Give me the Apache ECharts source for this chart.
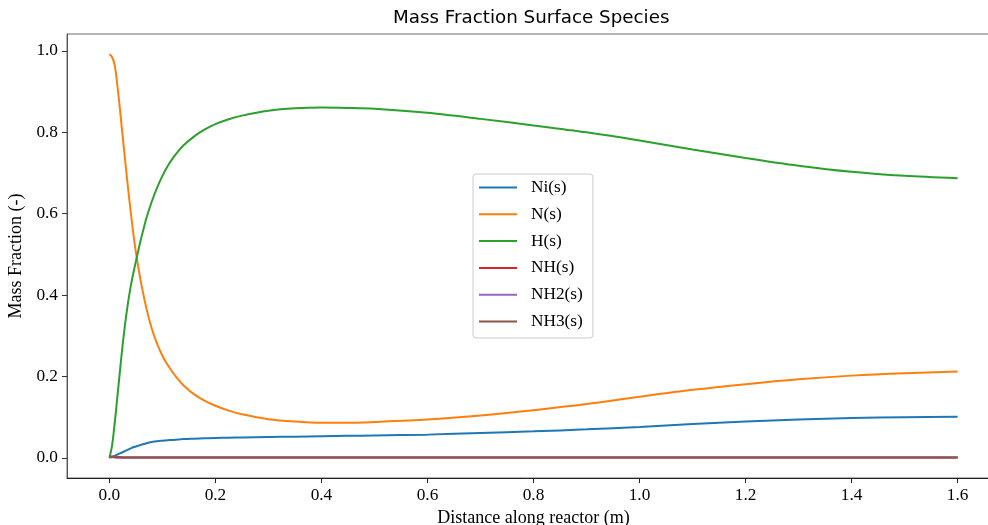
<!DOCTYPE html>
<html>
<head>
<meta charset="utf-8">
<script src="https://cdn.jsdelivr.net/npm/echarts@6/dist/echarts.min.js"></script>
<style>
  html, body { margin: 0; padding: 0; background: #fff; overflow: hidden; }
  #chart { width: 988px; height: 525px; }
</style>
</head>
<body>
<div id="chart"></div>
<script>
// Distance along the reactor (m), shared by every species
const distance = [0, 0.005, 0.01, 0.015, 0.02, 0.025, 0.03, 0.035, 0.04, 0.045, 0.05, 0.055, 0.06,
  0.07, 0.08, 0.09, 0.1, 0.11, 0.12, 0.13, 0.14, 0.16, 0.18, 0.2, 0.225, 0.25, 0.3, 0.35, 0.4, 0.45, 0.5,
  0.6, 0.7, 0.8, 0.9, 1.0, 1.1, 1.2, 1.3, 1.4, 1.5, 1.6];

// Surface species mass fractions
const niS = [0, 0.002, 0.005, 0.008, 0.011, 0.014, 0.017, 0.020, 0.023, 0.026, 0.028, 0.030, 0.032,
  0.036, 0.039, 0.041, 0.042, 0.043, 0.044, 0.045, 0.046, 0.047, 0.048, 0.049, 0.0495, 0.050, 0.051, 0.052, 0.053, 0.054, 0.055,
  0.057, 0.061, 0.065, 0.070, 0.076, 0.083, 0.089, 0.094, 0.098, 0.100, 0.101];
const nS = [0.992, 0.985, 0.965, 0.915, 0.855, 0.79, 0.727, 0.665, 0.607, 0.553, 0.505, 0.465, 0.428,
  0.366, 0.317, 0.280, 0.251, 0.228, 0.209, 0.192, 0.178, 0.156, 0.140, 0.128, 0.116, 0.107, 0.095, 0.089, 0.086, 0.086, 0.088,
  0.094, 0.104, 0.117, 0.132, 0.150, 0.167, 0.181, 0.193, 0.202, 0.208, 0.212];
const hS = [0, 0.03, 0.085, 0.15, 0.215, 0.278, 0.333, 0.38, 0.42, 0.453, 0.483, 0.512, 0.540,
  0.590, 0.630, 0.664, 0.693, 0.717, 0.737, 0.754, 0.768, 0.790, 0.807, 0.820, 0.832, 0.841, 0.853, 0.859, 0.861, 0.860, 0.858,
  0.848, 0.833, 0.817, 0.800, 0.780, 0.758, 0.737, 0.718, 0.703, 0.693, 0.687];
const nhS = [0.003, 0.003, 0.002, 0.002, 0.002, 0.001, 0.001, 0.001, 0.001, 0.001, 0.001, 0.001, 0.001,
  0.001, 0.001, 0.001, 0.001, 0.001, 0.001, 0.001, 0.001, 0.001, 0.001, 0.001, 0.001, 0.001, 0.001, 0.001, 0.001, 0.001, 0.001,
  0.001, 0.001, 0.001, 0.001, 0.001, 0.001, 0.001, 0.001, 0.001, 0.001, 0.001];
const nh2S = [0.002, 0.002, 0.001, 0.001, 0.001, 0.001, 0.001, 0.001, 0.0005, 0.0005, 0.0005, 0.0005, 0.0005,
  0.0005, 0.0005, 0.0005, 0.0005, 0.0005, 0.0005, 0.0005, 0.0005, 0.0005, 0.0005, 0.0005, 0.0005, 0.0005, 0.0005, 0.0005, 0.0005, 0.0005, 0.0005,
  0.0005, 0.0005, 0.0005, 0.0005, 0.0005, 0.0005, 0.0005, 0.0005, 0.0005, 0.0005, 0.0005];
const nh3S = [0.002, 0.002, 0.002, 0.001, 0.001, 0.001, 0.001, 0.001, 0.001, 0.001, 0.001, 0.001, 0.001,
  0.001, 0.001, 0.001, 0.001, 0.001, 0.001, 0.001, 0.001, 0.001, 0.001, 0.001, 0.001, 0.001, 0.001, 0.001, 0.001, 0.001, 0.001,
  0.001, 0.001, 0.001, 0.001, 0.001, 0.001, 0.001, 0.001, 0.001, 0.001, 0.001];

const speciesNames = ['Ni(s)', 'N(s)', 'H(s)', 'NH(s)', 'NH2(s)', 'NH3(s)'];
const speciesValues = [niS, nS, hS, nhS, nh2S, nh3S];
const speciesColors = ['#1f77b4', '#ff7f0e', '#2ca02c', '#d62728', '#9467bd', '#8c564b'];

const xTicks = [0, 0.2, 0.4, 0.6, 0.8, 1.0, 1.2, 1.4, 1.6];
const yTicks = [0, 0.2, 0.4, 0.6, 0.8, 1.0];

const serif = 'Liberation Serif';
const tickSize = 17.3;
const nameSize = 18;

const chart = echarts.init(document.getElementById('chart'), null, { renderer: 'canvas' });

const series = speciesNames.map((name, i) => ({
  name: name,
  type: 'line',
  data: distance.map((d, k) => [d, speciesValues[i][k]]),
  showSymbol: false,
  smooth: 0.3,
  lineStyle: { color: speciesColors[i], width: 2 },
  itemStyle: { color: speciesColors[i] },
  emphasis: { disabled: true },
  animation: false
}));

chart.setOption({
  animation: false,
  backgroundColor: '#fff',
  title: {
    text: 'Mass Fraction Surface Species',
    left: 393,
    top: 9,
    padding: 0,
    textStyle: { fontFamily: 'DejaVu Sans', fontSize: 18.3, fontWeight: 'normal', color: '#000' }
  },
  // the plot area runs a little past the right edge of the canvas
  grid: {
    left: 67, top: 34, right: -12, bottom: 47,
    outerBoundsMode: 'none',
    containLabel: false,
    show: true, borderColor: '#6a6a6a', borderWidth: 1, backgroundColor: 'transparent'
  },
  legend: {
    orient: 'vertical',
    left: 473,
    top: 174,
    icon: 'rect',
    itemWidth: 38,
    itemHeight: 2,
    itemGap: 9.8,
    padding: [5, 10, 8, 6],
    backgroundColor: 'rgba(255,255,255,0.8)',
    borderColor: '#cccccc',
    borderWidth: 1,
    borderRadius: 3,
    textStyle: { fontFamily: serif, fontSize: tickSize, color: '#000', lineHeight: 17, padding: [0, 0, 0, 9] },
    data: speciesNames
  },
  xAxis: {
    type: 'value',
    min: -0.08,
    max: 1.68,
    name: 'Distance along reactor (m)',
    nameLocation: 'middle',
    nameGap: 30,
    nameTextStyle: { fontFamily: serif, fontSize: nameSize, color: '#000' },
    axisLine: { show: true, onZero: false, lineStyle: { color: '#222', width: 1 } },
    axisTick: { show: true, length: 5, lineStyle: { color: '#222' }, customValues: xTicks },
    axisLabel: {
      margin: 9, fontFamily: serif, fontSize: tickSize, color: '#000',
      customValues: xTicks,
      formatter: v => v.toFixed(1)
    },
    splitLine: { show: false }
  },
  yAxis: {
    type: 'value',
    min: -0.0496,
    max: 1.0416,
    name: 'Mass Fraction (-)',
    nameLocation: 'middle',
    nameGap: 37,
    nameTextStyle: { fontFamily: serif, fontSize: nameSize, color: '#000' },
    axisLine: { show: true, onZero: false, lineStyle: { color: '#555', width: 1 } },
    axisTick: { show: true, length: 5, lineStyle: { color: '#333' }, customValues: yTicks },
    axisLabel: {
      margin: 9, fontFamily: serif, fontSize: tickSize, color: '#000',
      customValues: yTicks,
      formatter: v => v.toFixed(1)
    },
    splitLine: { show: false }
  },
  series: series
});
</script>
</body>
</html>
